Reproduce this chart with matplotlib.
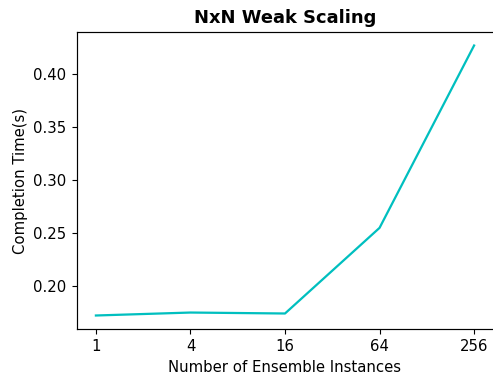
import matplotlib
matplotlib.use("Agg")
import matplotlib.pyplot as plt
import numpy as np

instances = ["1", "4", "16", "64", "256"]
completion_time = [0.1717, 0.1745, 0.1736, 0.2547, 0.4274]

s = 1.075
plt.rcParams["font.size"] = 10 * s
plt.rcParams["xtick.major.size"] = 3.5 * s
plt.rcParams["ytick.major.size"] = 3.5 * s
plt.rcParams["xtick.major.pad"] = 3.5 * s
plt.rcParams["ytick.major.pad"] = 3.5 * s
plt.rcParams["axes.linewidth"] = 0.8 * s

fig = plt.figure(figsize=(4.93, 3.75), dpi=100)
ax = fig.add_axes([77/493, 46/375, 416/493, 297/375])
x = np.arange(len(instances))
ax.plot(x, completion_time, color="c", linewidth=1.5 * s)
ax.set_xticks(x)
ax.set_xticklabels(instances)
ax.set_yticks([0.20, 0.25, 0.30, 0.35, 0.40])
ax.set_xlabel("Number of Ensemble Instances")
ax.set_ylabel("Completion Time(s)")
ax.set_title("NxN Weak Scaling", fontweight="bold", fontsize=12 * s, pad=6 * s)
ax.spines["right"].set_visible(False)
fig.savefig("out.png", dpi=100)
